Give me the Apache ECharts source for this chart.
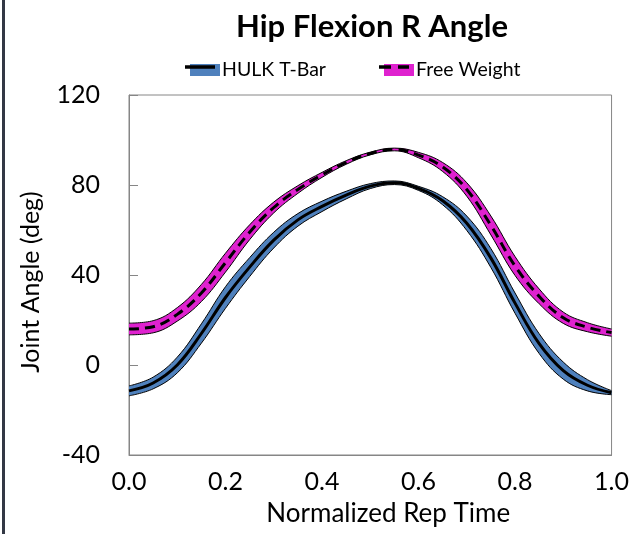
<!DOCTYPE html>
<html>
<head>
<meta charset="utf-8">
<script src="https://cdn.jsdelivr.net/npm/echarts@6/dist/echarts.min.js"></script>
<style>
html,body{margin:0;padding:0;background:#fff;}
#chart{width:632px;height:534px;}
</style>
</head>
<body>
<div id="chart"></div>
<script>
// ---- data ----
var repTime = [0, 0.05, 0.1, 0.15, 0.2, 0.25, 0.3, 0.35, 0.4, 0.45, 0.5, 0.55, 0.6, 0.65, 0.7, 0.75, 0.8, 0.85, 0.9, 0.95, 1.0];
var hulkMean = [-11.5, -8, 0, 14, 30, 43.5, 55.5, 64.5, 70.5, 75.5, 79.5, 81, 78.5, 73, 63, 47.5, 27.5, 9.5, -2.5, -9, -12.3];
var hulkSD   = [2.2, 2.6, 3.5, 4.3, 4.8, 4.2, 3.5, 2.8, 2.3, 1.7, 1.1, 0.8, 0.9, 1.8, 3.2, 4.2, 4.5, 4.4, 3.8, 2.5, 0.9];
var freeMean = [16, 17, 22.5, 32, 45.5, 59, 70, 78, 84.5, 90, 94, 95.8, 93.3, 88, 78, 62, 44, 30.5, 21, 16.8, 14.4];
var freeSD   = [2.6, 2.7, 3.0, 3.8, 4.2, 3.3, 2.4, 1.7, 1.1, 0.8, 0.6, 0.6, 1.2, 2.0, 3.0, 4.2, 4.2, 3.3, 2.5, 2.0, 1.6];
var yTicks = [-40, 0, 40, 80, 120];
var xTickLabels = ['0.0', '0.2', '0.4', '0.6', '0.8', '1.0'];
var seriesNames = ['HULK T-Bar', 'Free Weight'];

var FONT = 'Lato';
var BLUE = '#4f81bd';
var MAGENTA = '#df22cf';

function lower(m, s) { return m.map(function (v, i) { return +(v - s[i]).toFixed(2); }); }
function width(s) { return s.map(function (v) { return 2 * v; }); }

function bandSeries(stackId, mean, sd, color) {
  return [
    {
      name: stackId + ' low', type: 'line', stack: stackId, stackStrategy: 'all',
      data: lower(mean, sd), smooth: 0.4, symbol: 'none', silent: true,
      lineStyle: { color: '#000', width: 1 }
    },
    {
      name: stackId + ' band', type: 'line', stack: stackId, stackStrategy: 'all',
      data: width(sd), smooth: 0.4, symbol: 'none', silent: true,
      lineStyle: { color: '#000', width: 1 },
      areaStyle: { color: color, opacity: 1 }
    }
  ];
}

var series = []
  .concat(bandSeries('hulk', hulkMean, hulkSD, BLUE))
  .concat(bandSeries('free', freeMean, freeSD, MAGENTA))
  .concat([
    {
      name: seriesNames[0], type: 'line', data: hulkMean, smooth: 0.4, symbol: 'none',
      lineStyle: { color: '#000', width: 3 }, itemStyle: { color: BLUE }
    },
    {
      name: seriesNames[1], type: 'line', data: freeMean, smooth: 0.4, symbol: 'none',
      lineStyle: { color: '#000', width: 3, type: [10, 6] }, itemStyle: { color: MAGENTA }
    }
  ]);

var chart = echarts.init(document.getElementById('chart'), null, { renderer: 'canvas' });
chart.setOption({
  animation: false,
  backgroundColor: '#fff',
  title: {
    text: 'Hip Flexion R Angle',
    left: 367, top: 6, textAlign: 'center',
    textStyle: { fontFamily: FONT, fontWeight: 'bold', fontSize: 31, color: '#000' }
  },
  legend: [
    {
      data: [{ name: seriesNames[0], icon: 'rect', itemStyle: { color: BLUE } }],
      left: 185, top: 55, itemWidth: 30, itemHeight: 12, selectedMode: false,
      textStyle: { fontFamily: FONT, fontSize: 19.5, color: '#000', padding: [0, 0, 0, -3] }
    },
    {
      data: [{ name: seriesNames[1], icon: 'rect', itemStyle: { color: MAGENTA } }],
      left: 379, top: 55, itemWidth: 30, itemHeight: 12, selectedMode: false,
      textStyle: { fontFamily: FONT, fontSize: 19.5, color: '#000', padding: [0, 0, 0, -3] }
    }
  ],
  grid: {
    left: 129, right: 19, top: 95, bottom: 79,
    show: true, borderColor: '#868686', borderWidth: 1, backgroundColor: 'transparent'
  },
  xAxis: {
    type: 'category', boundaryGap: false,
    data: repTime.map(function (t) { return t.toFixed(2); }),
    name: 'Normalized Rep Time', nameLocation: 'middle', nameGap: 46,
    nameTextStyle: { fontFamily: FONT, fontSize: 26, color: '#000', padding: [0, 0, 0, 36] },
    axisLine: { show: true, onZero: false, lineStyle: { color: '#868686' } },
    axisTick: { show: false },
    splitLine: { show: false },
    axisLabel: {
      fontFamily: FONT, fontSize: 25, color: '#000', margin: 14, interval: 3,
      formatter: function (v) {
        var s = Number(v).toFixed(1);
        return xTickLabels.indexOf(s) >= 0 ? s : '';
      }
    }
  },
  yAxis: {
    type: 'value', min: yTicks[0], max: yTicks[yTicks.length - 1], interval: 40,
    name: 'Joint Angle (deg)', nameLocation: 'middle', nameGap: 86,
    nameTextStyle: { fontFamily: FONT, fontSize: 25, color: '#000', padding: [0, 14, 0, 0] },
    axisLine: { show: true, lineStyle: { color: '#868686' } },
    axisTick: { show: true, inside: true, length: 9, lineStyle: { color: '#868686' } },
    splitLine: { show: false },
    axisLabel: { fontFamily: FONT, fontSize: 25, color: '#000', margin: 29 }
  },
  graphic: [
    { type: 'rect', left: 2, top: 0, shape: { width: 3, height: 534 }, style: { fill: '#333845' }, silent: true },
    { type: 'line', shape: { x1: 185, y1: 67, x2: 215, y2: 67 }, style: { stroke: '#000', lineWidth: 3.5 }, z: 100, silent: true },
    { type: 'line', shape: { x1: 379, y1: 67, x2: 409, y2: 67 }, style: { stroke: '#000', lineWidth: 3.5, lineDash: [12, 7] }, z: 100, silent: true }
  ],
  series: series
});
</script>
</body>
</html>
